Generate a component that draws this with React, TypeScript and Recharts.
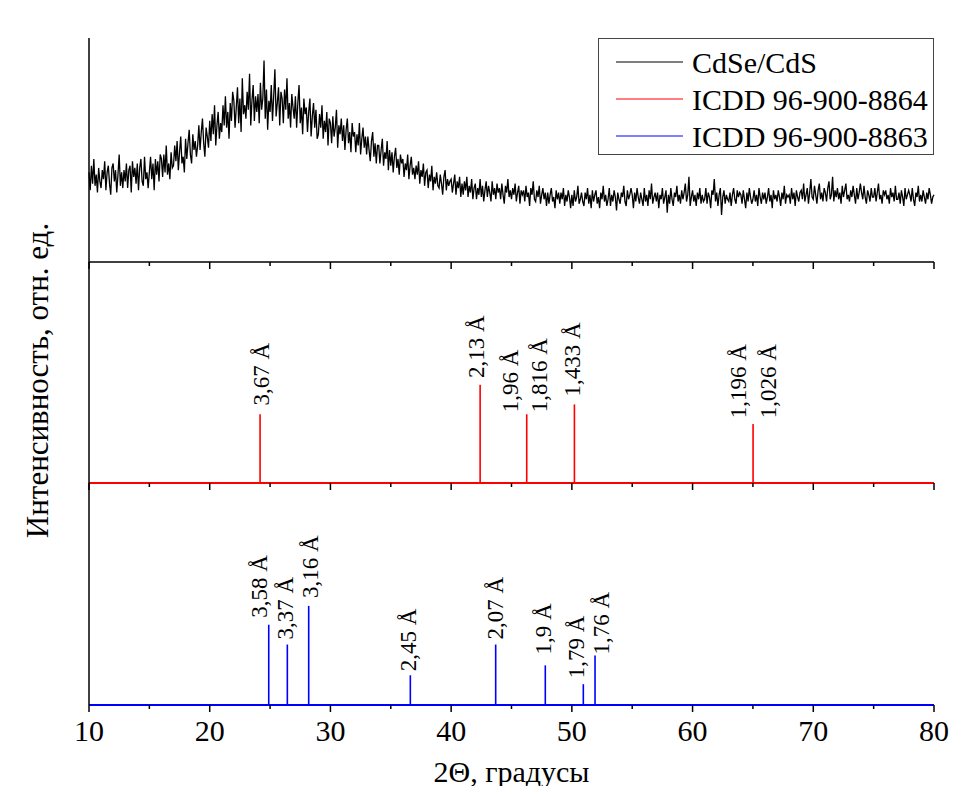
import {
	Bar,
	ComposedChart,
	Label,
	Legend,
	Line,
	Scatter,
	XAxis,
	YAxis,
} from "recharts";

const SERIF = "'Liberation Serif', 'Times New Roman', serif";

// CdSe/CdS pattern, 10..80 deg, step 0.1 (one row = 1 deg)
const cdseStart = 10;
const cdseStep = 0.1;
const cdseIntensity = [
	40, 32, 43, 35, 46, 34, 39, 31, 42, 36,
	33, 41, 37, 45, 32, 40, 43, 35, 30, 42,
	44, 36, 41, 31, 39, 48, 34, 40, 33, 41,
	36, 44, 33, 41, 43, 31, 45, 38, 42, 35,
	44, 32, 42, 46, 36, 34, 47, 37, 40, 33,
	40, 47, 37, 44, 32, 46, 39, 45, 36, 48,
	46, 38, 48, 40, 52, 39, 44, 37, 49, 42,
	43, 52, 45, 54, 41, 49, 56, 44, 47, 40,
	55, 46, 53, 59, 48, 44, 57, 50, 54, 47,
	52, 61, 50, 58, 64, 53, 47, 60, 56, 51,
	63, 54, 66, 57, 70, 52, 61, 67, 55, 62,
	58, 70, 61, 74, 60, 67, 55, 71, 63, 76,
	72, 60, 69, 78, 62, 73, 58, 82, 66, 70,
	64, 76, 68, 84, 61, 72, 79, 63, 74, 67,
	75, 62, 80, 68, 73, 90, 64, 77, 59, 72,
	67, 79, 63, 74, 86, 65, 71, 78, 61, 76,
	73, 62, 77, 68, 82, 64, 71, 60, 75, 69,
	64, 74, 60, 71, 79, 62, 69, 57, 73, 66,
	69, 58, 67, 73, 56, 65, 71, 60, 68, 55,
	57, 66, 60, 70, 55, 63, 58, 67, 52, 64,
	62, 53, 65, 56, 60, 68, 51, 61, 57, 64,
	54, 61, 50, 59, 64, 53, 58, 49, 62, 56,
	58, 49, 57, 52, 62, 48, 55, 60, 51, 56,
	48, 56, 50, 45, 54, 58, 47, 53, 44, 52,
	52, 44, 50, 55, 43, 49, 46, 54, 41, 50,
	43, 49, 40, 47, 51, 42, 46, 39, 48, 44,
	46, 38, 44, 41, 48, 37, 43, 47, 39, 42,
	37, 43, 39, 45, 35, 41, 38, 44, 34, 40,
	41, 33, 39, 36, 43, 32, 38, 35, 40, 34,
	33, 39, 35, 30, 38, 41, 32, 37, 34, 36,
	37, 31, 35, 39, 30, 36, 33, 38, 29, 35,
	30, 36, 32, 38, 29, 34, 31, 37, 28, 33,
	35, 28, 33, 30, 37, 29, 34, 27, 32, 36,
	29, 34, 31, 27, 36, 30, 33, 28, 35, 31,
	33, 28, 35, 30, 26, 34, 31, 37, 29, 32,
	28, 33, 30, 35, 27, 31, 34, 26, 32, 30,
	32, 27, 34, 29, 31, 25, 33, 30, 36, 28,
	27, 32, 29, 34, 26, 30, 33, 28, 31, 25,
	31, 26, 30, 33, 27, 29, 24, 32, 28, 31,
	26, 31, 28, 33, 25, 30, 27, 32, 29, 24,
	30, 25, 32, 27, 29, 34, 26, 28, 31, 27,
	25, 31, 28, 33, 26, 30, 24, 32, 27, 30,
	32, 26, 29, 24, 31, 28, 34, 27, 30, 25,
	28, 33, 25, 30, 27, 32, 29, 23, 31, 28,
	26, 31, 29, 34, 27, 25, 32, 28, 30, 33,
	30, 24, 31, 27, 33, 29, 26, 31, 28, 25,
	33, 27, 30, 25, 32, 28, 35, 26, 29, 31,
	27, 31, 24, 30, 28, 33, 26, 29, 32, 22,
	30, 26, 33, 28, 25, 31, 29, 34, 27, 30,
	26, 32, 28, 31, 35, 27, 30, 38, 25, 29,
	32, 27, 30, 25, 31, 28, 33, 26, 30, 27,
	28, 33, 26, 31, 29, 24, 32, 30, 37, 27,
	31, 25, 30, 33, 21, 29, 32, 26, 30, 28,
	27, 31, 25, 30, 33, 28, 26, 32, 29, 31,
	30, 26, 32, 28, 24, 31, 27, 33, 29, 26,
	28, 32, 27, 30, 25, 33, 29, 26, 31, 28,
	31, 26, 29, 33, 27, 30, 24, 32, 28, 30,
	27, 32, 29, 25, 31, 28, 34, 26, 30, 29,
	30, 26, 33, 28, 31, 25, 32, 29, 27, 31,
	32, 28, 35, 27, 30, 33, 26, 31, 37, 29,
	28, 34, 30, 26, 32, 35, 28, 31, 27, 33,
	31, 27, 33, 36, 28, 30, 38, 27, 32, 29,
	33, 28, 31, 26, 34, 29, 32, 35, 28, 30,
	27, 32, 29, 34, 30, 26, 33, 28, 31, 35,
	31, 28, 34, 29, 26, 32, 30, 27, 33, 29,
	29, 33, 27, 31, 35, 28, 30, 26, 32, 30,
	32, 28, 30, 26, 33, 29, 31, 27, 34, 28,
	28, 31, 26, 32, 29, 25, 33, 28, 30, 32,
	30, 27, 33, 28, 25, 31, 29, 34, 27, 30,
	27, 32, 29, 26, 31, 28, 33, 30, 26, 29,
	30,
];

// ICDD 96-900-8864 (red)
const redTth = [24.19, 42.42, 46.28, 50.23, 65.03];
const redRel = [70, 100, 70, 80, 60];
const redLabels = ["3,67 Å", "2,13 Å", "1,96 Å", "1,816 Å", "1,433 Å", "1,196 Å", "1,026 Å"];
const redLabelTth = [24.31, 42.14, 44.88, 47.28, 50.07, 63.77, 66.25];
const redLabelLevel = [79, 107, 72, 72, 88, 66, 66];

// ICDD 96-900-8863 (blue)
const blueTth = [24.89, 26.43, 28.2, 36.62, 43.69, 47.8, 50.95, 51.92];
const blueRel = [81, 61, 100, 30, 61, 40, 21, 50];
const blueLabels = ["3,58 Å", "3,37 Å", "3,16 Å", "2,45 Å", "2,07 Å", "1,9 Å", "1,79 Å", "1,76 Å"];
const blueLabelTth = [24.11, 26.32, 28.31, 36.45, 43.7, 47.64, 50.35, 52.47];
const blueLabelLevel = [88, 66, 108, 34, 66, 51, 27, 51];

const xTicks = [10, 15, 20, 25, 30, 35, 40, 45, 50, 55, 60, 65, 70, 75, 80];

const legendNames = ["CdSe/CdS", "ICDD 96-900-8864", "ICDD 96-900-8863"];
const legendColors = ["#000000", "#ff0000", "#0000ff"];

const cdseData = cdseIntensity.map((v, i) => ({ tth: cdseStart + i * cdseStep, i: v }));
const redData = redTth.map((t, k) => ({ tth: t, h: redRel[k] }));
const blueData = blueTth.map((t, k) => ({ tth: t, h: blueRel[k] }));
const redLabelData = redLabels.map((s, k) => ({ tth: redLabelTth[k], ly: redLabelLevel[k], label: s }));
const blueLabelData = blueLabels.map((s, k) => ({ tth: blueLabelTth[k], ly: blueLabelLevel[k], label: s }));

const W = 963;
const H = 794;

function XTick(props: any) {
	const { x, y, payload, showLabel } = props;
	const v = payload.value;
	const major = v % 10 === 0;
	return (
		<g>
			<line x1={x} x2={x} y1={y} y2={y + (major ? 7 : 4)} stroke="#000" strokeWidth={1.5} />
			{showLabel && major && (
				<text x={x} y={y + 36} textAnchor="middle" fontSize={30} fontFamily={SERIF} fill="#000">
					{v}
				</text>
			)}
		</g>
	);
}

// thin stick centred on the bar slot (label points share the x band)
function Stick(props: any) {
	const { x, y, width, height, fill } = props;
	const cx = x + width / 2;
	return <rect x={cx - 0.8} y={y} width={1.6} height={height} fill={fill} />;
}

function PeakLabel(props: any) {
	const { cx, cy, payload } = props;
	return (
		<text
			x={cx}
			y={cy}
			transform={`rotate(-90 ${cx} ${cy})`}
			textAnchor="start"
			dominantBaseline="central"
			fontSize={23}
			fontFamily={SERIF}
			fill="#000"
		>
			{payload.label}
		</text>
	);
}

function LegendBox() {
	return (
		<div
			style={{
				width: 336,
				height: 117,
				boxSizing: "border-box",
				border: "1.5px solid #444",
				background: "#fff",
			}}
		>
			<svg width={333} height={114}>
				{legendNames.map((n, k) => (
					<g key={n}>
						<line x1={17} x2={84} y1={23 + k * 37} y2={23 + k * 37} stroke={legendColors[k]} strokeWidth={1.2} />
						<text x={93} y={23 + k * 37} dominantBaseline="central" fontSize={30} fontFamily={SERIF} fill="#000">
							{n}
						</text>
					</g>
				))}
			</svg>
		</div>
	);
}

const layer: React.CSSProperties = { position: "absolute", left: 0, top: 0 };

const yAxisLabel = (p: any) => {
	const vb = p.viewBox;
	const cx = vb.x + vb.width - 52;
	const cy = vb.y + vb.height / 2 + 8;
	return (
		<text
			x={cx}
			y={cy}
			transform={`rotate(-90 ${cx} ${cy})`}
			textAnchor="middle"
			dominantBaseline="central"
			fontSize={31}
			fontFamily={SERIF}
			fill="#000"
		>
			Интенсивность, отн. ед.
		</text>
	);
};

export default function App() {
	return (
		<div style={{ position: "relative", width: W, height: H, margin: -8 }}>
			{/* top: measured pattern */}
			<div style={layer}>
				<ComposedChart width={W} height={H} data={cdseData} margin={{ top: 38, right: 29, left: 88, bottom: 502 }}>
					<XAxis
						dataKey="tth"
						type="number"
						domain={[10, 80]}
						ticks={xTicks}
						interval={0}
						height={30}
						tickSize={0}
						tickMargin={0}
						tickLine={false}
						axisLine={{ stroke: "#000", strokeWidth: 1.5 }}
						tick={(p: any) => <XTick {...p} showLabel={false} />}
					/>
					<YAxis type="number" domain={[0, 100]} width={1} tick={false} tickLine={false} axisLine={{ stroke: "#000", strokeWidth: 1.5 }} />
					<Line dataKey="i" stroke="#000" strokeWidth={1.3} dot={false} isAnimationActive={false} />
					<Legend
						layout="vertical"
						align="center"
						verticalAlign="middle"
						wrapperStyle={{ left: 598, top: 38, width: 336 }}
						content={() => <LegendBox />}
					/>
				</ComposedChart>
			</div>

			{/* middle: ICDD 96-900-8864 */}
			<div style={layer}>
				<ComposedChart width={W} height={H} data={redData} margin={{ top: 262, right: 29, left: 88, bottom: 281 }}>
					<XAxis
						dataKey="tth"
						type="number"
						domain={[10, 80]}
						ticks={xTicks}
						interval={0}
						height={30}
						tickSize={0}
						tickMargin={0}
						tickLine={false}
						axisLine={{ stroke: "#ff0000", strokeWidth: 2 }}
						tick={(p: any) => <XTick {...p} showLabel={false} />}
					/>
					<YAxis type="number" domain={[0, 225]} width={1} tick={false} tickLine={false} axisLine={{ stroke: "#000", strokeWidth: 1.5 }}>
						<Label content={yAxisLabel} />
					</YAxis>
					<Bar dataKey="h" fill="#ff0000" barSize={1} shape={Stick} isAnimationActive={false} />
					<Scatter data={redLabelData} dataKey="ly" shape={PeakLabel} isAnimationActive={false} />
				</ComposedChart>
			</div>

			{/* bottom: ICDD 96-900-8863 */}
			<div style={layer}>
				<ComposedChart width={W} height={H} data={blueData} margin={{ top: 483, right: 29, left: 88, bottom: 59 }}>
					<XAxis
						dataKey="tth"
						type="number"
						domain={[10, 80]}
						ticks={xTicks}
						interval={0}
						height={30}
						tickSize={0}
						tickMargin={0}
						tickLine={false}
						axisLine={{ stroke: "#0000ff", strokeWidth: 2 }}
						tick={(p: any) => <XTick {...p} showLabel />}
					>
						<Label
							content={(p: any) => {
								const vb = p.viewBox;
								return (
									<text
										x={vb.x + vb.width / 2}
										y={vb.y + 77}
										textAnchor="middle"
										fontSize={30}
										fontFamily={SERIF}
										fill="#000"
									>
										2Θ, градусы
									</text>
								);
							}}
						/>
					</XAxis>
					<YAxis type="number" domain={[0, 224]} width={1} tick={false} tickLine={false} axisLine={{ stroke: "#000", strokeWidth: 1.5 }} />
					<Bar dataKey="h" fill="#0000ff" barSize={1} shape={Stick} isAnimationActive={false} />
					<Scatter data={blueLabelData} dataKey="ly" shape={PeakLabel} isAnimationActive={false} />
				</ComposedChart>
			</div>
		</div>
	);
}
